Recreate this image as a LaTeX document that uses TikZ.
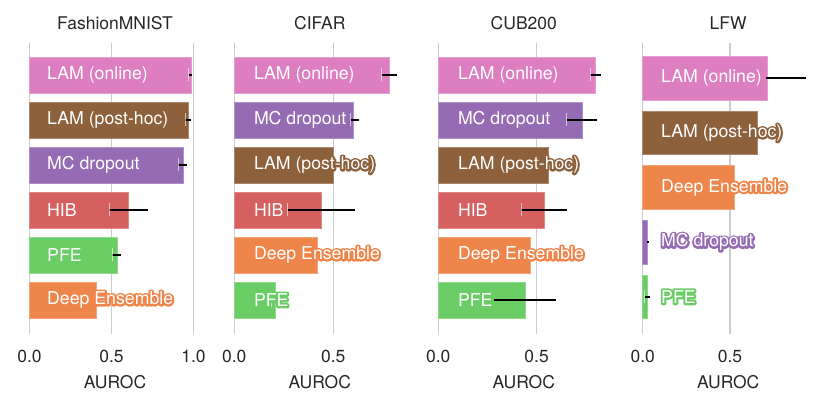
\documentclass[tikz,border=0pt]{standalone}
\usepackage{fontspec}
\setmainfont{TeX Gyre Heros}
\usetikzlibrary{positioning}

\definecolor{lampink}{HTML}{DC7EC0}
\definecolor{lambrown}{HTML}{8C613C}
\definecolor{mcpurple}{HTML}{956CB4}
\definecolor{hibred}{HTML}{D65F5F}
\definecolor{pfegreen}{HTML}{6ACC64}
\definecolor{deorange}{HTML}{EE854A}
\definecolor{gridgray}{HTML}{CCCCCC}
\definecolor{axisgray}{HTML}{262626}

% white text with a stroked halo in the bar colour
\newcommand{\halotext}[2]{\rlap{\color{#1}\special{pdf:literal direct 2 Tr 4 w 1 j}#2\special{pdf:literal direct 0 Tr}}\textcolor{white}{#2}}

\tikzset{
	gridline/.style={draw=gridgray, line width=1.4pt},
	barfill/.style={fill=#1, draw=#1!75!white, line width=0.6pt},
	errline/.style={line width=2.2pt, black},
	errcap/.style={line width=0.9pt, white, opacity=0.6},
	methodlabel/.style={anchor=west, inner sep=0pt, font=\fontsize{17.7}{20}\selectfont},
	axistext/.style={anchor=base, text=axisgray, inner sep=0pt, font=\fontsize{17.5}{20}\selectfont}
}

\begin{document}
\begin{tikzpicture}[x=1pt, y=-1pt]
	\useasboundingbox (0, 0) rectangle (831, 409);

	% FashionMNIST
	\begin{scope}[xshift=29.5pt, x=164pt]
	\draw[gridline] (0, 43) -- (0, 334);
	\draw[gridline] (0.5, 43) -- (0.5, 334);
	\draw[gridline] (1, 43) -- (1, 334);

	\draw[barfill=lampink] (0, 57) rectangle (0.985, 93);
	\draw[barfill=lambrown] (0, 102) rectangle (0.966, 138);
	\draw[barfill=mcpurple] (0, 147) rectangle (0.936, 183);
	\draw[barfill=hibred] (0, 192) rectangle (0.60, 228);
	\draw[barfill=pfegreen] (0, 237) rectangle (0.533, 273);
	\draw[barfill=deorange] (0, 282) rectangle (0.41, 318);

	\draw[errline] (0.971, 75) -- (0.99, 75);
	\draw[errcap] (0.971, 68.5) -- (0.971, 81.5);
	\draw[errline] (0.948, 120) -- (0.983, 120);
	\draw[errcap] (0.948, 113.5) -- (0.948, 126.5);
	\draw[errline] (0.907, 165) -- (0.96, 165);
	\draw[errcap] (0.907, 158.5) -- (0.907, 171.5);
	\draw[errline] (0.487, 210) -- (0.72, 210);
	\draw[errcap] (0.487, 203.5) -- (0.487, 216.5);
	\draw[errline] (0.503, 255) -- (0.56, 255);
	\draw[errcap] (0.503, 248.5) -- (0.503, 261.5);

	\node[methodlabel] (fm-lamon) at ([xshift=17.5pt]0, 75) {\halotext{lampink}{LAM (online)}};
	\node[methodlabel] (fm-lamph) at ([xshift=17.5pt]0, 120) {\halotext{lambrown}{LAM (post-hoc)}};
	\node[methodlabel] (fm-mc) at ([xshift=17.5pt]0, 165) {\halotext{mcpurple}{MC dropout}};
	\node[methodlabel] (fm-hib) at ([xshift=17.5pt]0, 210) {\halotext{hibred}{HIB}};
	\node[methodlabel] (fm-pfe) at ([xshift=17.5pt]0, 255) {\halotext{pfegreen}{PFE}};
	\node[methodlabel] (fm-de) at ([xshift=17.5pt]0, 300) {\halotext{deorange}{Deep Ensemble}};

	\node[axistext] (fm-title) at ([xshift=85.5pt]0, 29.3) {FashionMNIST};
	\node[axistext] (fm-t0) at (0, 362.6) {0.0};
	\node[axistext] (fm-t5) at (0.5, 362.6) {0.5};
	\node[axistext] (fm-t10) at (1, 362.6) {1.0};
	\node[axistext] (fm-xlab) at ([xshift=85.5pt]0, 388) {AUROC};
	\end{scope}

	% CIFAR
	\begin{scope}[xshift=234.3pt, x=198pt]
	\draw[gridline] (0, 43) -- (0, 334);
	\draw[gridline] (0.5, 43) -- (0.5, 334);

	\draw[barfill=lampink] (0, 57) rectangle (0.783, 93);
	\draw[barfill=mcpurple] (0, 102) rectangle (0.603, 138);
	\draw[barfill=lambrown] (0, 147) rectangle (0.502, 183);
	\draw[barfill=hibred] (0, 192) rectangle (0.441, 228);
	\draw[barfill=deorange] (0, 237) rectangle (0.421, 273);
	\draw[barfill=pfegreen] (0, 282) rectangle (0.209, 318);

	\draw[errline] (0.744, 75) -- (0.822, 75);
	\draw[errcap] (0.744, 68.5) -- (0.744, 81.5);
	\draw[errline] (0.588, 120) -- (0.63, 120);
	\draw[errcap] (0.588, 113.5) -- (0.588, 126.5);
	\draw[errline] (0.27, 210) -- (0.61, 210);
	\draw[errcap] (0.27, 203.5) -- (0.27, 216.5);
	\draw[errline] (0.189, 300) -- (0.214, 300);
	\draw[errcap] (0.189, 293.5) -- (0.189, 306.5);

	\node[methodlabel] (ci-lamon) at ([xshift=19.5pt]0, 75) {\halotext{lampink}{LAM (online)}};
	\node[methodlabel] (ci-mc) at ([xshift=19.5pt]0, 120) {\halotext{mcpurple}{MC dropout}};
	\node[methodlabel] (ci-lamph) at ([xshift=19.5pt]0, 165) {\halotext{lambrown}{LAM (post-hoc)}};
	\node[methodlabel] (ci-hib) at ([xshift=19.5pt]0, 210) {\halotext{hibred}{HIB}};
	\node[methodlabel] (ci-de) at ([xshift=19.5pt]0, 255) {\halotext{deorange}{Deep Ensemble}};
	\node[methodlabel] (ci-pfe) at ([xshift=19.5pt]0, 300) {\halotext{pfegreen}{PFE}};

	\node[axistext] (ci-title) at ([xshift=85.5pt]0, 29.3) {CIFAR};
	\node[axistext] (ci-t0) at (0, 362.6) {0.0};
	\node[axistext] (ci-t5) at (0.5, 362.6) {0.5};
	\node[axistext] (ci-xlab) at ([xshift=85.5pt]0, 388) {AUROC};
	\end{scope}

	% CUB200
	\begin{scope}[xshift=438.3pt, x=196.7pt]
	\draw[gridline] (0, 43) -- (0, 334);
	\draw[gridline] (0.5, 43) -- (0.5, 334);

	\draw[barfill=lampink] (0, 57) rectangle (0.80, 93);
	\draw[barfill=mcpurple] (0, 102) rectangle (0.73, 138);
	\draw[barfill=lambrown] (0, 147) rectangle (0.559, 183);
	\draw[barfill=hibred] (0, 192) rectangle (0.541, 228);
	\draw[barfill=deorange] (0, 237) rectangle (0.47, 273);
	\draw[barfill=pfegreen] (0, 282) rectangle (0.441, 318);

	\draw[errline] (0.773, 75) -- (0.829, 75);
	\draw[errcap] (0.773, 68.5) -- (0.773, 81.5);
	\draw[errline] (0.653, 120) -- (0.808, 120);
	\draw[errcap] (0.653, 113.5) -- (0.653, 126.5);
	\draw[errline] (0.422, 210) -- (0.656, 210);
	\draw[errcap] (0.422, 203.5) -- (0.422, 216.5);
	\draw[errline] (0.283, 300) -- (0.598, 300);

	\node[methodlabel] (cu-lamon) at ([xshift=19.5pt]0, 75) {\halotext{lampink}{LAM (online)}};
	\node[methodlabel] (cu-mc) at ([xshift=19.5pt]0, 120) {\halotext{mcpurple}{MC dropout}};
	\node[methodlabel] (cu-lamph) at ([xshift=19.5pt]0, 165) {\halotext{lambrown}{LAM (post-hoc)}};
	\node[methodlabel] (cu-hib) at ([xshift=19.5pt]0, 210) {\halotext{hibred}{HIB}};
	\node[methodlabel] (cu-de) at ([xshift=19.5pt]0, 255) {\halotext{deorange}{Deep Ensemble}};
	\node[methodlabel] (cu-pfe) at ([xshift=19.5pt]0, 300) {\halotext{pfegreen}{PFE}};

	\node[axistext] (cu-title) at ([xshift=85.5pt]0, 29.3) {CUB200};
	\node[axistext] (cu-t0) at (0, 362.6) {0.0};
	\node[axistext] (cu-t5) at (0.5, 362.6) {0.5};
	\node[axistext] (cu-xlab) at ([xshift=85.5pt]0, 388) {AUROC};
	\end{scope}

	% LFW
	\begin{scope}[xshift=642.7pt, x=174.7pt]
	\draw[gridline] (0, 43) -- (0, 334);
	\draw[gridline] (0.5, 43) -- (0.5, 334);

	\draw[barfill=lampink] (0, 56.5) rectangle (0.716, 100.1);
	\draw[barfill=lambrown] (0, 111.2) rectangle (0.656, 154.8);
	\draw[barfill=deorange] (0, 165.8) rectangle (0.524, 209.4);
	\draw[barfill=mcpurple] (0, 220.4) rectangle (0.029, 264);
	\draw[barfill=pfegreen] (0, 275) rectangle (0.029, 318.6);

	\draw[errline] (0.706, 78.3) -- (0.933, 78.3);
	\draw[errline] (0.022, 242.2) -- (0.036, 242.2);
	\draw[errline] (0.012, 296.8) -- (0.042, 296.8);
	\draw[errcap] (0.012, 290.3) -- (0.012, 303.3);

	\node[methodlabel] (lf-lamon) at ([xshift=18.3pt]0, 78.3) {\halotext{lampink}{LAM (online)}};
	\node[methodlabel] (lf-lamph) at ([xshift=18.3pt]0, 133) {\halotext{lambrown}{LAM (post-hoc)}};
	\node[methodlabel] (lf-de) at ([xshift=18.3pt]0, 187.6) {\halotext{deorange}{Deep Ensemble}};
	\node[methodlabel] (lf-mc) at ([xshift=18.3pt]0, 242.2) {\halotext{mcpurple}{MC dropout}};
	\node[methodlabel] (lf-pfe) at ([xshift=18.3pt]0, 296.8) {\halotext{pfegreen}{PFE}};

	\node[axistext] (lf-title) at ([xshift=85.5pt]0, 29.3) {LFW};
	\node[axistext] (lf-t0) at (0, 362.6) {0.0};
	\node[axistext] (lf-t5) at (0.5, 362.6) {0.5};
	\node[axistext] (lf-xlab) at ([xshift=85.5pt]0, 388) {AUROC};
	\end{scope}

\end{tikzpicture}
\end{document}
